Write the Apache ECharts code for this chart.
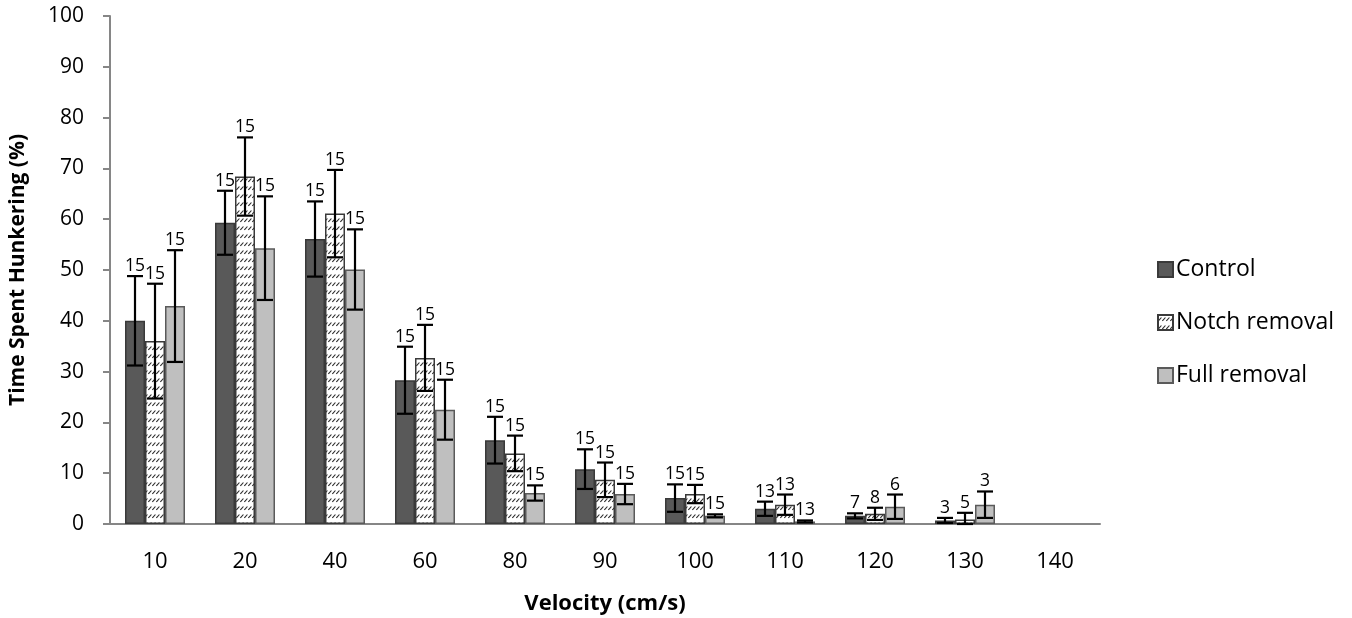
<!DOCTYPE html>
<html>
<head>
<meta charset="utf-8">
<script src="https://cdn.jsdelivr.net/npm/echarts@6/dist/echarts.min.js"></script>
<style>html,body{margin:0;padding:0;background:#fff}#c{width:1352px;height:618px}</style>
</head>
<body>
<div id="c"></div>
<script>
const categories = ['10','20','40','60','80','90','100','110','120','130','140'];
const yTicks = [0,10,20,30,40,50,60,70,80,90,100];
const seriesNames = ['Control','Notch removal','Full removal'];
const control    = [40.0, 59.3, 56.1, 28.3, 16.5, 10.8, 5.1, 3.0, 1.6, 0.7, null];
const controlErr = [8.8, 6.3, 7.4, 6.6, 4.6, 3.9, 2.7, 1.4, 0.5, 0.5, null];
const controlN   = [15, 15, 15, 15, 15, 15, 15, 13, 7, 3, null];
const notch      = [36.0, 68.4, 61.1, 32.7, 13.9, 8.7, 5.9, 3.8, 2.0, 0.9, null];
const notchErr   = [11.3, 7.7, 8.6, 6.5, 3.5, 3.4, 1.8, 2.0, 1.2, 1.3, null];
const notchN     = [15, 15, 15, 15, 15, 15, 15, 13, 8, 5, null];
const full       = [42.9, 54.3, 50.1, 22.5, 6.1, 5.9, 1.6, 0.5, 3.4, 3.8, null];
const fullErr    = [11.0, 10.2, 7.9, 5.9, 1.5, 2.0, 0.3, 0.2, 2.4, 2.6, null];
const fullN      = [15, 15, 15, 15, 15, 15, 15, 13, 6, 3, null];

const FONT = '"Open Sans", Lato, sans-serif';

// hatch pattern
const pc = document.createElement('canvas');
pc.width = 4; pc.height = 8;
const ctx = pc.getContext('2d');
ctx.fillStyle = '#ffffff'; ctx.fillRect(0,0,4,8);
ctx.strokeStyle = '#2a2a2a'; ctx.lineWidth = 1.1;
ctx.beginPath(); ctx.moveTo(0.4,6); ctx.lineTo(3.4,2.5); ctx.stroke();
const hatch = {image: pc, repeat: 'repeat'};

const BW = 20;
const offsets = [-BW, 0, BW];
const means = [control, notch, full];
const errs = [controlErr, notchErr, fullErr];
const ns = [controlN, notchN, fullN];

function errData(k){
  const out = [];
  categories.forEach((c,i)=>{ if(means[k][i]!=null) out.push([i, means[k][i], errs[k][i], ns[k][i]]); });
  return out;
}
function makeRender(k){
  return function(params, api){
    const i = api.value(0), v = api.value(1), e = api.value(2), n = api.value(3);
    const top = api.coord([i, v+e]);
    const bot = api.coord([i, Math.max(v-e,0)]);
    const x = top[0] + offsets[k];
    const cap = 8;
    const ls = {stroke:'#000', lineWidth:2.2};
    return {type:'group', children:[
      {type:'line', shape:{x1:x,y1:top[1],x2:x,y2:bot[1]}, style:ls},
      {type:'line', shape:{x1:x-cap,y1:top[1],x2:x+cap,y2:top[1]}, style:ls},
      {type:'line', shape:{x1:x-cap,y1:bot[1],x2:x+cap,y2:bot[1]}, style:ls},
      {type:'text', style:{text:String(n), x:x, y:top[1]-1, align:'center', verticalAlign:'bottom',
        fontSize:17.5, fontFamily:FONT, fill:'#000'}}
    ]};
  };
}

const barStyles = [
  {color:'#595959', borderColor:'#3a3a3a', borderWidth:1.5},
  {color:hatch, borderColor:'#3a3a3a', borderWidth:1.5},
  {color:'#bfbfbf', borderColor:'#5a5a5a', borderWidth:1.5}
];

const series = [];
[0,1,2].forEach(k=>{
  series.push({name:seriesNames[k], type:'bar', data:means[k], barWidth:BW, barGap:'0%',
    itemStyle:barStyles[k], z:2, animation:false});
});
[0,1,2].forEach(k=>{
  series.push({type:'custom', renderItem:makeRender(k), data:errData(k), z:5, animation:false, silent:true});
});

const chart = echarts.init(document.getElementById('c'));
chart.setOption({
  animation:false,
  backgroundColor:'#fff',
  textStyle:{fontFamily:FONT},
  grid:{left:110, right:252, top:16, bottom:94, containLabel:false, outerBoundsMode:'none'},
  legend:{orient:'vertical', left:1152, top:253, itemWidth:15, itemHeight:15, itemGap:30, icon:'rect',
    data:seriesNames, textStyle:{fontSize:23, color:'#000', fontFamily:FONT, padding:[0,0,0,-2]}},
  xAxis:{type:'category', data:categories, name:'Velocity (cm/s)', nameLocation:'middle', nameGap:69,
    nameTextStyle:{fontSize:22, fontWeight:'bold', color:'#000', fontFamily:FONT},
    axisLine:{lineStyle:{color:'#868686', width:2}}, axisTick:{show:false},
    axisLabel:{fontSize:22, color:'#000', margin:27, fontFamily:FONT}},
  yAxis:{type:'value', min:0, max:100, interval:10, name:'Time Spent Hunkering (%)', nameLocation:'middle', nameGap:81,
    nameTextStyle:{fontSize:21, fontWeight:'bold', color:'#000', fontFamily:FONT},
    axisLine:{show:true, lineStyle:{color:'#868686', width:2}},
    axisTick:{show:true, length:7, lineStyle:{color:'#868686', width:2}},
    splitLine:{show:false},
    axisLabel:{fontSize:21, color:'#000', margin:26, fontFamily:FONT,
      formatter:function(v){ return yTicks.indexOf(v)>=0 ? String(v) : ''; }}},
  series:series
});
</script>
</body>
</html>
